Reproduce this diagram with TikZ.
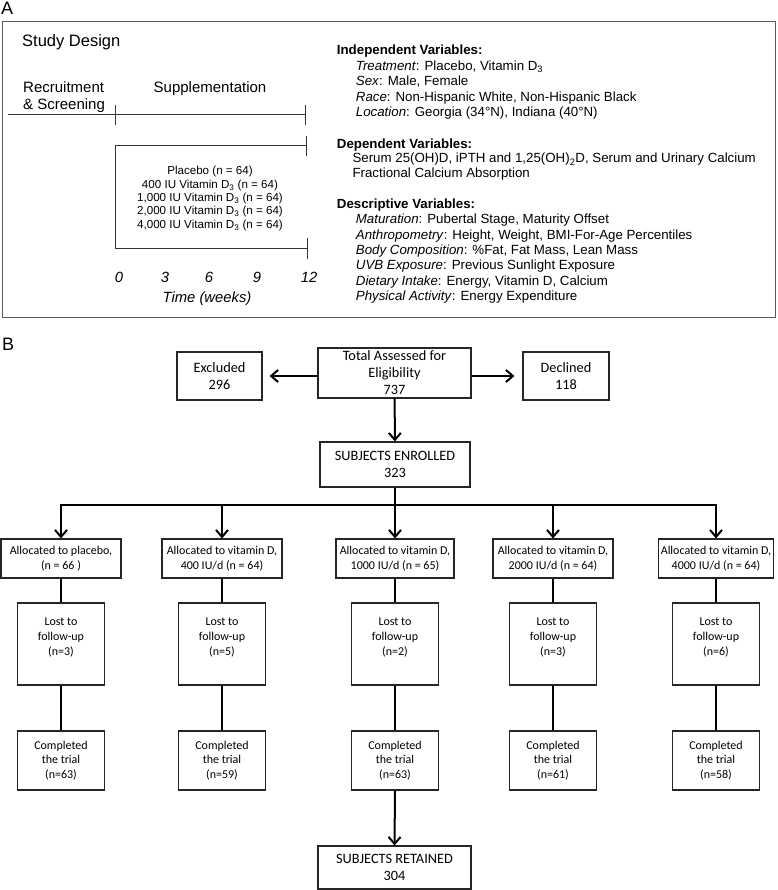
\documentclass[tikz,border=0pt]{standalone}
\usepackage{fontspec}
\setmainfont{Liberation Sans}
\newfontfamily\carl{Carlito}
\usetikzlibrary{arrows.meta}
\begin{document}
\begin{tikzpicture}[x=1pt,y=-1pt,
  txtA/.style={anchor=base west, inner sep=0pt, font=\fontsize{13.3}{15}\selectfont},
  hdA/.style={anchor=base west, inner sep=0pt, font=\fontsize{13.3}{15}\selectfont\bfseries},
  ttlA/.style={anchor=base west, inner sep=0pt, font=\fontsize{15}{17}\selectfont},
  ctrA/.style={anchor=base, inner sep=0pt, font=\fontsize{11.6}{13}\selectfont},
  timeA/.style={anchor=base, inner sep=0pt, font=\fontsize{14.8}{17}\selectfont\itshape},
  panel/.style={anchor=base west, inner sep=0pt, font=\fontsize{18}{20}\selectfont},
  lineA/.style={line width=1pt, draw=black!80},
  boxB/.style={draw=black!85, line width=1.1pt, align=center, inner sep=0pt,
    font=\carl\fontsize{14.3}{17}\selectfont},
  smallB/.style={boxB, font=\carl\fontsize{12}{14.6}\selectfont},
  conn/.style={line width=2pt},
  arr/.style={conn, -{Straight Barb[length=7pt,width=12pt]}}
]
\useasboundingbox (0,0) rectangle (777,890);

% ---------------- Panel A ----------------
\node[panel] (labA) at (1,15) {A};
\draw[draw=black!65, line width=1pt] (2,22) rectangle (775,317);
\node[anchor=base west, inner sep=0pt, font=\fontsize{16.5}{18}\selectfont] (sd) at (22,47) {Study Design};
\node[ttlA] (rec1) at (23,92.7) {Recruitment};
\node[ttlA] (rec2) at (23,109.3) {\& Screening};
\node[anchor=base, inner sep=0pt, font=\fontsize{15}{17}\selectfont] (supp) at (210,92.7) {Supplementation};

\draw[lineA] (8,115) -- (305,115);
\draw[lineA] (115,105) -- (115,125);
\draw[lineA] (305,105) -- (305,125);
\draw[lineA] (306,136) -- (306,156);
\draw[lineA] (306,146) -- (115,146) -- (115,249) -- (307,249);
\draw[lineA] (307,238) -- (307,259);

\node[ctrA] (g1) at (210,175) {Placebo (n = 64)};
\node[ctrA] (g2) at (210,188.3) {400 IU Vitamin D\textsubscript{3} (n = 64)};
\node[ctrA] (g3) at (210,201.7) {1,000 IU Vitamin D\textsubscript{3} (n = 64)};
\node[ctrA] (g4) at (210,215) {2,000 IU Vitamin D\textsubscript{3} (n = 64)};
\node[ctrA] (g5) at (210,228.3) {4,000 IU Vitamin D\textsubscript{3} (n = 64)};

\node[timeA] (t0) at (119,282.7) {0};
\node[timeA] (t3) at (165,282.7) {3};
\node[timeA] (t6) at (209,282.7) {6};
\node[timeA] (t9) at (257,282.7) {9};
\node[timeA] (t12) at (309,282.7) {12};
\node[timeA] (tw) at (207,302) {Time (weeks)};

\node[hdA] (iv) at (336.7,55) {Independent Variables:};
\node[txtA] (iv1) at (355.7,70.7) {\textit{Treatment}: Placebo, Vitamin D\textsubscript{3}};
\node[txtA] (iv2) at (355.7,85.9) {\textit{Sex}: Male, Female};
\node[txtA] (iv3) at (355.7,101.1) {\textit{Race}: Non-Hispanic White, Non-Hispanic Black};
\node[txtA] (iv4) at (355.7,116.3) {\textit{Location}: Georgia (34°N), Indiana (40°N)};

\node[hdA] (dv) at (336.7,148.3) {Dependent Variables:};
\node[txtA] (dv1) at (352.3,162.9) {Serum 25(OH)D, iPTH and 1,25(OH)\textsubscript{2}D, Serum and Urinary Calcium};
\node[txtA] (dv2) at (352.3,177.9) {Fractional Calcium Absorption};

\node[hdA] (de) at (336.7,208.3) {Descriptive Variables:};
\node[txtA] (de1) at (355.7,224) {\textit{Maturation}: Pubertal Stage, Maturity Offset};
\node[txtA] (de2) at (355.7,239.3) {\textit{Anthropometry}: Height, Weight, BMI-For-Age Percentiles};
\node[txtA] (de3) at (355.7,254.6) {\textit{Body Composition}: \%Fat, Fat Mass, Lean Mass};
\node[txtA] (de4) at (355.7,269.9) {\textit{UVB Exposure}: Previous Sunlight Exposure};
\node[txtA] (de5) at (355.7,285.2) {\textit{Dietary Intake}: Energy, Vitamin D, Calcium};
\node[txtA] (de6) at (355.7,300.5) {\textit{Physical Activity}: Energy Expenditure};

% ---------------- Panel B ----------------
\node[panel] (labB) at (2,350) {B};

\node[boxB, minimum width=153pt, minimum height=50pt] (total) at (394.5,373) {Total Assessed for\\Eligibility\\737};
\node[boxB, minimum width=85pt, minimum height=48pt] (excl) at (219.5,376) {Excluded\\296};
\node[boxB, minimum width=86pt, minimum height=48pt] (decl) at (566,376) {Declined\\118};
\node[boxB, minimum width=150pt, minimum height=45pt] (enr) at (395,464.5) {SUBJECTS ENROLLED\\323};

\draw[arr, shorten >=7pt] (total.west |- excl) -- (excl.east);
\draw[arr, shorten >=8pt] (total.east |- decl) -- (decl.west);
\draw[arr] (total) -- (enr);

% allocation row
\node[smallB, minimum width=120pt, minimum height=39pt] (a1) at (61,558.5) {Allocated to placebo,\\(n = 66 )};
\node[smallB, minimum width=120pt, minimum height=39pt] (a2) at (222,558.5) {Allocated to vitamin D,\\400 IU/d (n = 64)};
\node[smallB, minimum width=118pt, minimum height=39pt] (a3) at (395,558.5) {Allocated to vitamin D,\\1000 IU/d (n = 65)};
\node[smallB, minimum width=120pt, minimum height=39pt] (a4) at (553,558.5) {Allocated to vitamin D,\\2000 IU/d (n = 64)};
\node[smallB, minimum width=115pt, minimum height=39pt] (a5) at (716,558.5) {Allocated to vitamin D,\\4000 IU/d (n = 64)};

\coordinate (bar) at (395,505);
\draw[conn] (enr.south) -- (bar);
\draw[arr] (bar) -| (a1.north);
\draw[arr] (bar) -| (a5.north);
\draw[arr] (a2.north |- bar) -- (a2.north);
\draw[arr] (bar) -- (a3.north);
\draw[arr] (a4.north |- bar) -- (a4.north);

% lost row
\foreach \i/\x/\n in {1/61/3, 2/222/5, 3/395/2, 4/553/3, 5/716/6}{
  \node[smallB, minimum width=87pt, minimum height=82pt] (l\i) at (\x,644) {Lost to\\follow-up\\(n=\n)\\\mbox{}};
}
\foreach \i/\x/\n in {1/61/63, 2/222/59, 3/395/63, 4/553/61, 5/716/58}{
  \node[smallB, minimum width=87pt, minimum height=59pt] (c\i) at (\x,760.5) {Completed\\the trial\\(n=\n)};
}
\foreach \i in {1,...,5}{
  \draw[conn] (a\i.south) -- (l\i.north);
  \draw[conn] (l\i.south) -- (c\i.north);
}

\node[boxB, minimum width=153pt, minimum height=43pt] (ret) at (394.5,867.5) {SUBJECTS RETAINED\\304};
\draw[arr] (c3.south) -- (ret.north);
\end{tikzpicture}
\end{document}
